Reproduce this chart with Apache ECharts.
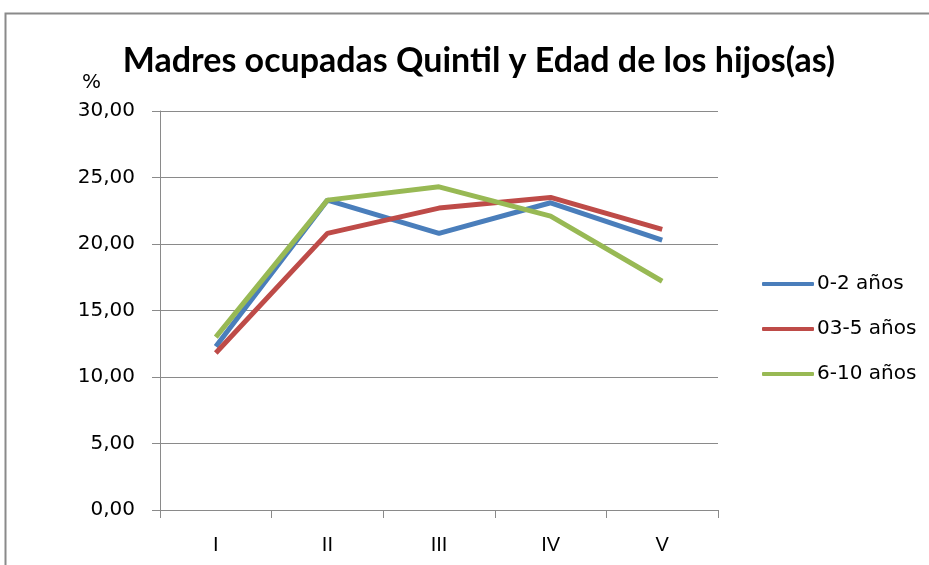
<!DOCTYPE html>
<html>
<head>
<meta charset="utf-8">
<script src="https://cdn.jsdelivr.net/npm/echarts@6/dist/echarts.min.js"></script>
<style>
  html, body { margin: 0; padding: 0; background: #fff; }
  #chart { width: 929px; height: 565px; }
</style>
</head>
<body>
<div id="chart"></div>
<script>
// quintiles on x axis
const quintiles = ["I", "II", "III", "IV", "V"];
const edad02 = [12.3, 23.3, 20.8, 23.1, 20.3];
const edad35 = [11.8, 20.8, 22.7, 23.5, 21.1];
const edad610 = [13.0, 23.3, 24.3, 22.1, 17.2];
const seriesNames = ["0-2 años", "03-5 años", "6-10 años"];

const chart = echarts.init(document.getElementById("chart"), null, { renderer: "canvas" });

const mkLine = (name, data, color) => ({
  name: name,
  type: "line",
  data: data,
  symbol: "none",
  smooth: false,
  lineStyle: { color: color, width: 5 },
  itemStyle: { color: color },
});

chart.setOption({
  animation: false,
  title: {
    text: "Madres ocupadas Quintil y Edad de los hijos(as)",
    left: 474,
    textAlign: "center",
    top: 39,
    textStyle: { fontFamily: "Lato", fontWeight: "bold", fontSize: 34, color: "#000" },
  },
  graphic: [
    {
      type: "rect",
      shape: { x: 5.5, y: 13.5, width: 1000, height: 600 },
      style: { fill: "none", stroke: "#8a8a8a", lineWidth: 2 },
      silent: true,
    },
    {
      type: "text",
      left: 82,
      top: 73,
      style: { text: "%", fontFamily: "DejaVu Sans", fontSize: 20, fill: "#000" },
    },
  ],
  legend: {
    orient: "vertical",
    left: 757,
    top: 269,
    itemGap: 25,
    itemWidth: 52,
    itemHeight: 4,
    icon: "roundRect",
    textStyle: { fontFamily: "DejaVu Sans", fontSize: 20, color: "#000", padding: [0, 0, 0, -2] },
    data: seriesNames,
  },
  grid: { left: 160, right: 211, top: 111, bottom: 55, containLabel: false },
  xAxis: {
    type: "category",
    data: quintiles,
    boundaryGap: true,
    axisLine: { lineStyle: { color: "#8a8a8a", width: 1 } },
    axisTick: { show: true, length: 8, lineStyle: { color: "#8a8a8a" } },
    axisLabel: { fontFamily: "Liberation Sans", fontSize: 20, color: "#000", margin: 25 },
  },
  yAxis: {
    type: "value",
    min: 0,
    max: 30,
    interval: 5,
    axisLine: { show: true, lineStyle: { color: "#8a8a8a", width: 1 } },
    axisTick: { show: true, length: 8, lineStyle: { color: "#8a8a8a" } },
    splitLine: { lineStyle: { color: "#8a8a8a", width: 1 } },
    axisLabel: {
      fontFamily: "DejaVu Sans",
      fontSize: 20,
      color: "#000",
      margin: 25,
      formatter: (v) => v.toFixed(2).replace(".", ","),
    },
  },
  series: [
    mkLine(seriesNames[0], edad02, "#4a7ebb"),
    mkLine(seriesNames[1], edad35, "#be4b48"),
    mkLine(seriesNames[2], edad610, "#98b954"),
  ],
});
</script>
</body>
</html>
